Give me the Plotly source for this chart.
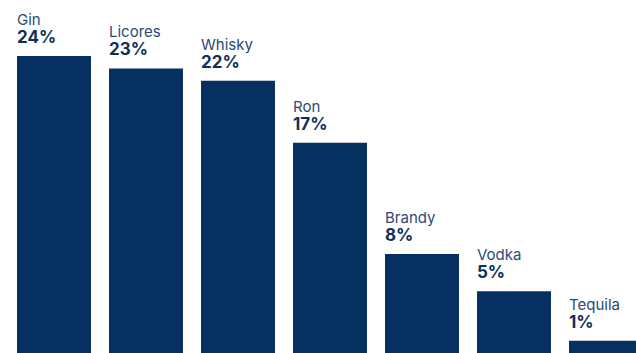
import plotly.graph_objects as go

categories = ["Gin", "Licores", "Whisky", "Ron", "Brandy", "Vodka", "Tequila"]
shares = [24, 23, 22, 17, 8, 5, 1]
pct_labels = ["24%", "23%", "22%", "17%", "8%", "5%", "1%"]

BAR_COLOR = "#05305f"
NAME_COLOR = "#2b4a76"
PCT_COLOR = "#102f5a"
FONT = "Inter, 'Open Sans', sans-serif"

BARGAP = 0.196
half_w = (1 - BARGAP) / 2

fig = go.Figure(
    go.Bar(
        x=list(range(len(categories))),
        y=shares,
        marker=dict(color=BAR_COLOR, line=dict(width=0)),
        hoverinfo="skip",
    )
)

# one two-line label per bar: category name over the bold share
annotations = []
for i, (name, val, lab) in enumerate(zip(categories, shares, pct_labels)):
    annotations.append(dict(
        x=i - half_w, y=val, xref="x", yref="y",
        text=(f"<span style='font-size:15px'>{name}</span><br>"
              f"<span style='font-size:17px;color:{PCT_COLOR}'><b>{lab}</b></span>"),
        showarrow=False, align="left",
        xanchor="left", yanchor="bottom", yshift=7, xshift=-2,
        font=dict(family=FONT, size=14, color=NAME_COLOR),
    ))

fig.update_layout(
    width=636, height=353,
    margin=dict(l=8, r=0, t=0, b=0),
    paper_bgcolor="white", plot_bgcolor="white",
    bargap=BARGAP,
    showlegend=False,
    xaxis=dict(range=[-0.5, 6.326], visible=False, fixedrange=True),
    yaxis=dict(range=[0, 28.53], visible=False, fixedrange=True),
    annotations=annotations,
)

fig.write_html("out.html", config={"displayModeBar": False})
